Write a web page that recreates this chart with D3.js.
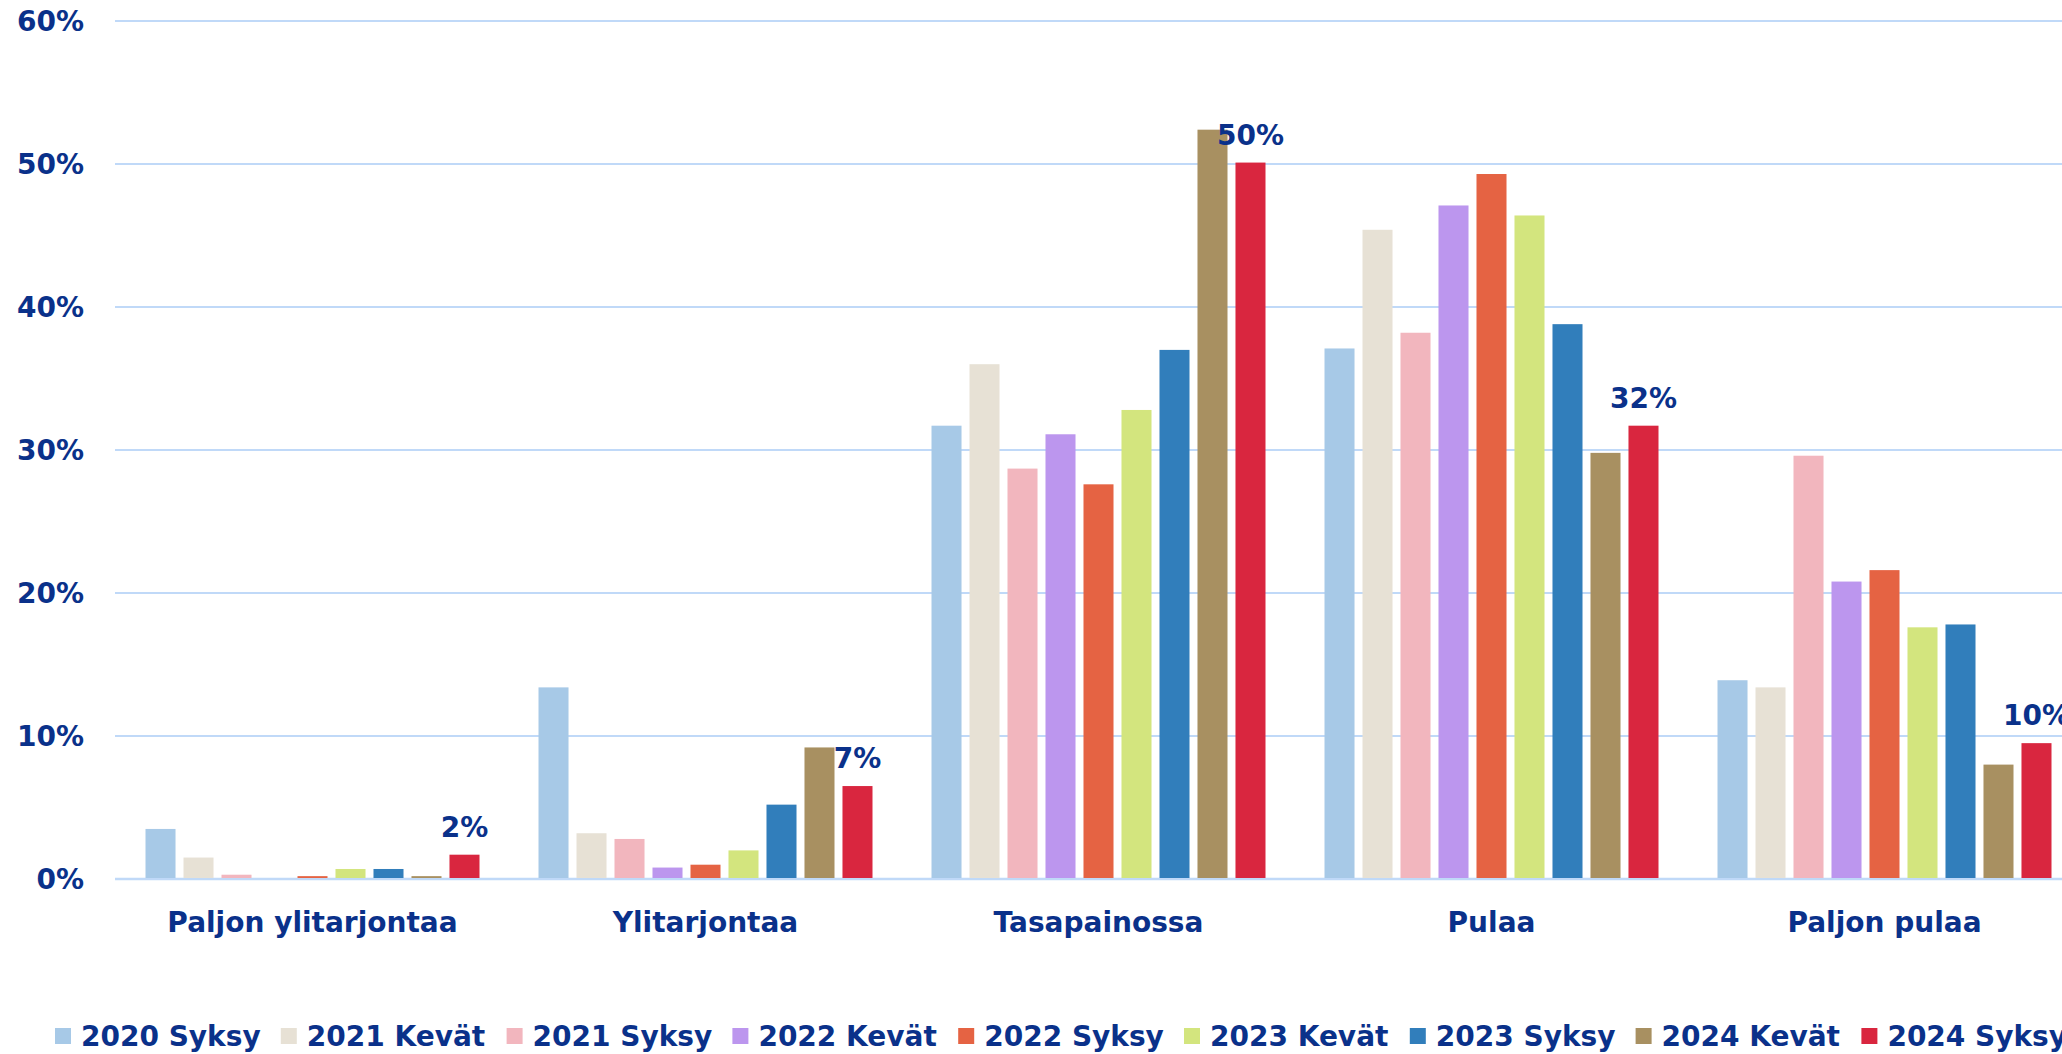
<!DOCTYPE html>
<html>
<head>
<meta charset="utf-8">
<script src="https://cdn.jsdelivr.net/npm/d3@7"></script>
<style>
    html, body { margin: 0; padding: 0; background: #fff; overflow: hidden; }
    svg text { font-family: "DejaVu Sans", sans-serif; font-weight: bold; fill: #0a318a; }
</style>
</head>
<body>
<div id="chart"></div>
<script>
// categories and series
const categories = ["Paljon ylitarjontaa", "Ylitarjontaa", "Tasapainossa", "Pulaa", "Paljon pulaa"];
const seriesNames = ["2020 Syksy", "2021 Kevät", "2021 Syksy", "2022 Kevät", "2022 Syksy",
                     "2023 Kevät", "2023 Syksy", "2024 Kevät", "2024 Syksy"];
const seriesColors = ["#a7c9e7", "#e7e1d5", "#f2b6be", "#bc96ee", "#e56343",
                      "#d3e57e", "#317ebb", "#a89061", "#d9263f"];

// values per series, in category order (percent)
const s2020Syksy = [3.5, 13.4, 31.7, 37.1, 13.9];
const s2021Kevat = [1.5, 3.2, 36.0, 45.4, 13.4];
const s2021Syksy = [0.3, 2.8, 28.7, 38.2, 29.6];
const s2022Kevat = [0.0, 0.8, 31.1, 47.1, 20.8];
const s2022Syksy = [0.2, 1.0, 27.6, 49.3, 21.6];
const s2023Kevat = [0.7, 2.0, 32.8, 46.4, 17.6];
const s2023Syksy = [0.7, 5.2, 37.0, 38.8, 17.8];
const s2024Kevat = [0.2, 9.2, 52.4, 29.8, 8.0];
const s2024Syksy = [1.7, 6.5, 50.1, 31.7, 9.5];
const seriesValues = [s2020Syksy, s2021Kevat, s2021Syksy, s2022Kevat, s2022Syksy,
                      s2023Kevat, s2023Syksy, s2024Kevat, s2024Syksy];

// labels shown over the last series
const lastLabels = ["2%", "7%", "50%", "32%", "10%"];

const yTicks = [0, 10, 20, 30, 40, 50, 60];

const width = 2062;
const height = 1054;
const plotLeft = 116;
const bandW = 393;

const svg = d3.select("#chart").append("svg")
    .attr("width", width)
    .attr("height", height);

const x0 = d3.scaleBand()
    .domain(categories)
    .range([plotLeft, plotLeft + bandW * categories.length])
    .padding(0);

const x1 = d3.scaleBand()
    .domain(seriesNames)
    .range([29.5, bandW - 29.5])
    .paddingInner(0.21)
    .paddingOuter(0);

const y = d3.scaleLinear().domain([0, 60]).range([879, 21]);

// gridlines
svg.append("g")
    .selectAll("line")
    .data(yTicks)
    .join("line")
    .attr("x1", plotLeft - 1)
    .attr("x2", width)
    .attr("y1", d => y(d))
    .attr("y2", d => y(d))
    .attr("stroke", "#c0d9f8")
    .attr("stroke-width", d => d === 0 ? 2.5 : 2);

// y axis labels
svg.append("g")
    .selectAll("text")
    .data(yTicks)
    .join("text")
    .attr("x", 84)
    .attr("y", d => y(d) + 10)
    .attr("text-anchor", "end")
    .style("font-size", "28px")
    .text(d => d + "%");

// bars
const groups = svg.append("g")
    .selectAll("g")
    .data(categories)
    .join("g")
    .attr("transform", d => `translate(${x0(d)},0)`);

groups.selectAll("rect")
    .data((c, ci) => seriesNames.map((s, si) => ({ s, si, v: seriesValues[si][ci] })))
    .join("rect")
    .attr("x", d => x1(d.s))
    .attr("width", x1.bandwidth())
    .attr("y", d => y(d.v))
    .attr("height", d => Math.max(0, y(0) - y(d.v) - 1))
    .attr("fill", d => seriesColors[d.si]);

// value labels for last series
const lastIdx = seriesNames.length - 1;
groups.append("text")
    .attr("x", x1(seriesNames[lastIdx]) + x1.bandwidth() / 2)
    .attr("y", (c, ci) => y(seriesValues[lastIdx][ci]) - 18)
    .attr("text-anchor", "middle")
    .style("font-size", "28px")
    .text((c, ci) => lastLabels[ci]);

// category labels
svg.append("g")
    .selectAll("text")
    .data(categories)
    .join("text")
    .attr("x", (d, i) => x0(d) + x1(seriesNames[0]) + (x1(seriesNames[lastIdx]) + x1.bandwidth() - x1(seriesNames[0])) / 2)
    .attr("y", 932)
    .attr("text-anchor", "middle")
    .style("font-size", "28px")
    .text(d => d);

// legend
const legendX = d3.scalePoint()
    .domain(seriesNames)
    .range([55, 55 + 225.8 * (seriesNames.length - 1)]);

const legend = svg.append("g")
    .selectAll("g")
    .data(seriesNames)
    .join("g")
    .attr("transform", d => `translate(${legendX(d)},0)`);

legend.append("rect")
    .attr("x", 0)
    .attr("y", 1028)
    .attr("width", 16)
    .attr("height", 16)
    .attr("fill", (d, i) => seriesColors[i]);

legend.append("text")
    .attr("x", 26)
    .attr("y", 1046)
    .style("font-size", "28px")
    .text(d => d);
</script>
</body>
</html>
